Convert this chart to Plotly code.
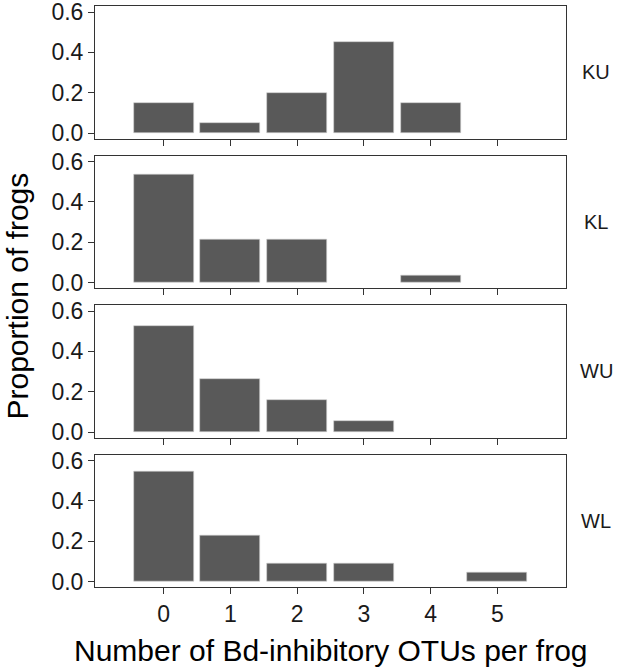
import plotly.graph_objects as go
from plotly.subplots import make_subplots

otus = [0, 1, 2, 3, 4, 5]
groups = ["KU", "KL", "WU", "WL"]
ku = [0.15, 0.05, 0.20, 0.45, 0.15, 0.0]
kl = [0.536, 0.214, 0.214, 0.0, 0.036, 0.0]
wu = [0.526, 0.263, 0.158, 0.053, 0.0, 0.0]
wl = [0.545, 0.227, 0.091, 0.091, 0.0, 0.045]
values = [ku, kl, wu, wl]
y_ticks = [0.0, 0.2, 0.4, 0.6]
y_ticklabels = ["0.0", "0.2", "0.4", "0.6"]

W, H = 624, 667
ml, mr, mt, mb = 95, 58, 6, 80
ph = H - mt - mb
pw = W - ml - mr

fig = make_subplots(rows=4, cols=1, shared_xaxes=True, vertical_spacing=17 / ph)

FONT = "Liberation Sans, Arial, sans-serif"
for i, (g, v) in enumerate(zip(groups, values)):
    xs = [o for o, val in zip(otus, v) if val > 0]
    ys = [val for val in v if val > 0]
    fig.add_trace(
        go.Bar(x=xs, y=ys, width=0.9,
               marker=dict(color="#595959", line=dict(color="#d0d0d0", width=0.6)),
               showlegend=False, hoverinfo="skip"),
        row=i + 1, col=1)
    fig.update_yaxes(range=[-0.027, 0.63], tickvals=y_ticks, ticktext=y_ticklabels,
                     showgrid=False, zeroline=False, showline=True, mirror=True,
                     linecolor="#333333", linewidth=1, ticks="outside", ticklen=6,
                     tickcolor="#333333", tickwidth=1, automargin=False,
                     ticklabeloverflow="allow",
                     tickfont=dict(family=FONT, size=23, color="#1a1a1a"),
                     row=i + 1, col=1)
    fig.update_xaxes(range=[-1.03, 6.03], tickvals=otus, showgrid=False, zeroline=False,
                     showline=True, mirror=True, linecolor="#333333", linewidth=1,
                     ticks="outside", ticklen=6, tickcolor="#333333", tickwidth=1,
                     showticklabels=(i == 3), automargin=False,
                     ticklabeloverflow="allow",
                     tickfont=dict(family=FONT, size=23, color="#1a1a1a"),
                     row=i + 1, col=1)

# strip labels
for i, g in enumerate(groups):
    yaxis = fig.layout["yaxis" + ("" if i == 0 else str(i + 1))]
    d0, d1 = yaxis.domain
    fig.add_annotation(text=g, xref="paper", yref="paper", x=(596 - ml) / pw, y=(d0 + d1) / 2,
                       xanchor="center", yanchor="middle", showarrow=False,
                       font=dict(family=FONT, size=20, color="#1a1a1a"))

fig.add_annotation(text="Proportion of frogs", xref="paper", yref="paper",
                   x=(17 - ml) / pw, y=0.5, textangle=-90, xanchor="center", yanchor="middle",
                   showarrow=False, font=dict(family=FONT, size=30, color="black"))
fig.add_annotation(text="Number of Bd-inhibitory OTUs per frog", xref="paper", yref="paper",
                   x=0.5, y=-(650 - (H - mb)) / ph, xanchor="center", yanchor="middle",
                   showarrow=False, font=dict(family=FONT, size=30, color="black"))

fig.update_layout(width=W, height=H, margin=dict(l=ml, r=mr, t=mt, b=mb),
                  plot_bgcolor="white", paper_bgcolor="white", bargap=0)

fig.write_html("out.html", config={"displayModeBar": False},
               post_script="document.body.style.margin='0';document.body.style.overflow='hidden';")
